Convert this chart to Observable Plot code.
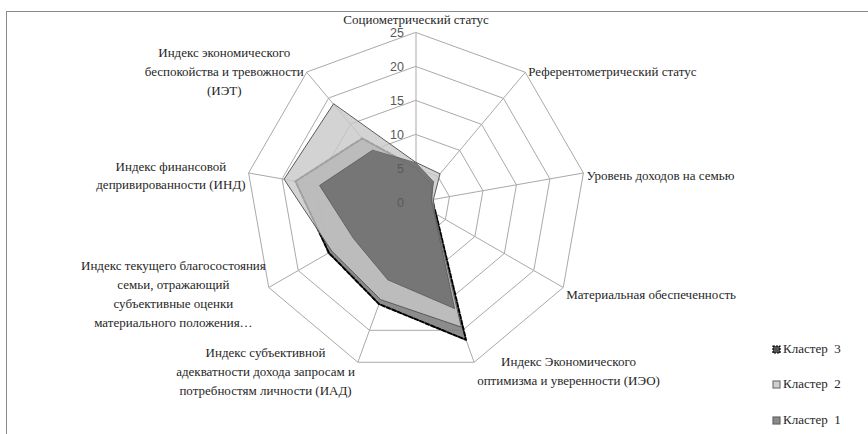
<!DOCTYPE html>
<html>
<head>
<meta charset="utf-8">
<script src="https://cdn.jsdelivr.net/npm/d3@7"></script>
<script src="https://cdn.jsdelivr.net/npm/@observablehq/plot@0.6"></script>
<style>
  body { margin: 0; background: #fff; }
  #wrap { position: relative; width: 868px; height: 434px; overflow: hidden; }
  #frame { position: absolute; left: 6px; top: 11px; width: 900px; height: 500px;
           border-top: 1px solid #8a8a8a; border-left: 1px solid #8a8a8a; pointer-events: none; }
  .leg { position: absolute; left: 772px; font-size: 13px;
         font-family: "Liberation Serif", "Times New Roman", "DejaVu Serif", serif; color: #262626;
         display: flex; align-items: center; gap: 2px; }
  .serif text { font-family: "Liberation Serif", "Times New Roman", "DejaVu Serif", serif; }
</style>
</head>
<body>
<div id="wrap"><div id="frame"></div></div>
<script>
// ---- data ----
const categories = [
  "Социометрический статус",
  "Референтометрический статус",
  "Уровень доходов на семью",
  "Материальная обеспеченность",
  "Индекс Экономического\nоптимизма и уверенности (ИЭО)",
  "Индекс субъективной\nадекватности дохода запросам и\nпотребностям личности (ИАД)",
  "Индекс текущего благосостояния\nсемьи, отражающий\nсубъективные оценки\nматериального положения…",
  "Индекс финансовой\nдепривированности (ИНД)",
  "Индекс экономического\nбеспокойства и тревожности\n(ИЭТ)"
];
const seriesNames = ["Кластер 1", "Кластер 2", "Кластер 3"];
const cluster1 = [5.8, 4.0, 2.3, 3.1, 16.6, 12.1, 10.6, 14.4, 10.0];
const cluster2 = [5.9, 5.5, 2.6, 3.2, 19.5, 15.2, 14.3, 19.7, 18.9];
const cluster3 = [5.1, 3.5, 2.4, 3.4, 21.5, 15.9, 14.8, 18.0, 12.3];
const ticks = [0, 5, 10, 15, 20, 25];

// ---- layout ----
const W = 868, H = 434;
const cx = 415.5, cy = 202, R = 170, vmax = 25;
const k = R / vmax;
const n = categories.length;
const ang = i => i * 2 * Math.PI / n;
const px = (v, i) => v * Math.sin(ang(i));
const py = (v, i) => v * Math.cos(ang(i));

const rings = [];
for (const lv of ticks.slice(1)) for (let i = 0; i < n; i++) rings.push({lv, x: px(lv, i), y: py(lv, i)});
const spokes = d3.range(n).map(i => ({x: px(vmax, i), y: py(vmax, i)}));

const toRows = (vals, name) => vals.map((v, i) => ({name, x: px(v, i), y: py(v, i)}));
const s1 = toRows(cluster1, seriesNames[0]);
const s2 = toRows(cluster2, seriesNames[1]);
const s3 = toRows(cluster3, seriesNames[2]);

const serifFont = '"Liberation Serif", "Times New Roman", "DejaVu Serif", serif';
const ctx = document.createElement("canvas").getContext("2d");
ctx.font = '13px ' + serifFont;
const gap = 3;
const labels = categories.map((t, i) => {
  const s = Math.sin(ang(i)), c = Math.cos(ang(i));
  const vx = cx + R * s, vy = cy - R * c;
  const lines = t.split("\n");
  const w = d3.max(lines, l => ctx.measureText(l).width);
  let X, Y;
  if (Math.abs(s) < 0.01) { X = vx; Y = vy - 15; }
  else {
    X = s > 0 ? vx + gap + w / 2 : vx - gap - w / 2;
    Y = vy - c * 6 + 2;
  }
  return {text: t, x: (X - cx) / k, y: (cy - Y) / k};
});

const chart = Plot.plot({
  width: W, height: H,
  margin: 0,
  x: {domain: [-cx / k, (W - cx) / k], axis: null},
  y: {domain: [-(H - cy) / k, cy / k], axis: null},
  marks: [
    Plot.line(rings, {x: "x", y: "y", z: "lv", curve: "linear-closed", stroke: "#a9a9a9", strokeWidth: 1}),
    Plot.link(spokes, {x1: () => 0, y1: () => 0, x2: "x", y2: "y", stroke: "#a9a9a9", strokeWidth: 1}),
    Plot.line(s3, {x: "x", y: "y", curve: "linear-closed", fill: "#7c7c7c", fillOpacity: 0.88,
                   stroke: "#000", strokeWidth: 2, strokeDasharray: "4,2"}),
    Plot.line(s2, {x: "x", y: "y", curve: "linear-closed", fill: "#c8c8c8", fillOpacity: 0.8,
                   stroke: "#5a5a5a", strokeWidth: 1}),
    Plot.line(s1, {x: "x", y: "y", curve: "linear-closed", fill: "#6a6a6a", fillOpacity: 0.86,
                   stroke: "#555", strokeWidth: 0.8}),
    Plot.text(ticks, {x: () => 0, y: d => d, text: d => String(d), dx: -12, textAnchor: "end",
                      fontFamily: "Liberation Sans", fontSize: 12.5, fill: "#595959"}),
    Plot.text(labels, {x: "x", y: "y", text: "text", textAnchor: "middle", lineAnchor: "middle",
                       lineHeight: 1.45, fontSize: 13, fill: "#262626", className: "serif"})
  ]
});
const wrap = document.getElementById("wrap");
wrap.insertBefore(chart, wrap.firstChild);

const legendItems = [
  {name: seriesNames[2], top: 341, fill: "#555", stroke: "#000", dash: "2,1"},
  {name: seriesNames[1], top: 376, fill: "#d0d0d0", stroke: "#777", dash: null},
  {name: seriesNames[0], top: 412, fill: "#8a8a8a", stroke: "#666", dash: null}
];
for (const it of legendItems) {
  const d = document.createElement("div");
  d.className = "leg";
  d.style.top = it.top + "px";
  d.innerHTML = `<svg width="9" height="9"><rect x="1" y="1" width="7" height="7" fill="${it.fill}" stroke="${it.stroke}" stroke-width="1.2" ${it.dash ? `stroke-dasharray="${it.dash}"` : ""}/></svg><span>${it.name.replace(" ", "&nbsp;&nbsp;")}</span>`;
  wrap.appendChild(d);
}
</script>
</body>
</html>
